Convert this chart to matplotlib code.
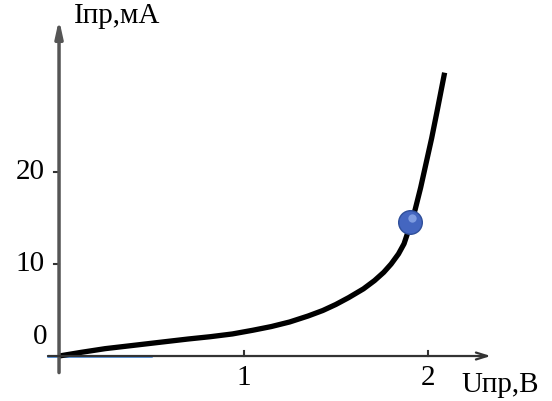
import matplotlib
matplotlib.use("Agg")
import matplotlib.pyplot as plt

# прямая ветвь ВАХ диода
u_pr = [0.0, 0.12, 0.25, 0.40, 0.55, 0.70, 0.82, 0.94, 1.05, 1.15, 1.25, 1.35, 1.43, 1.50, 1.57, 1.65,
        1.71, 1.76, 1.80, 1.84, 1.87, 1.90, 1.93, 1.96, 1.99, 2.02, 2.05, 2.09]
i_pr = [0.0, 0.4, 0.8, 1.15, 1.5, 1.85, 2.1, 2.4, 2.8, 3.2, 3.7, 4.35, 4.95, 5.6, 6.35, 7.3,
        8.2, 9.1, 10.0, 11.1, 12.2, 14.0, 15.9, 18.3, 21.0, 23.7, 26.7, 30.8]
point_u = [1.90]
point_i = [14.6]
x_ticks = [1, 2]
y_ticks = [10, 20]

plt.rcParams["font.family"] = ["Liberation Serif", "DejaVu Serif"]

fig = plt.figure(figsize=(5.52, 4.01), dpi=100)
ax = fig.add_axes([0, 0, 1, 1])
ax.set_xlim(-0.32, 2.672)
ax.set_ylim(-4.89, 38.7)
ax.axis("off")

# оси со стрелками
ax.annotate("", xy=(0, 36.6), xytext=(0, -1.8),
            arrowprops=dict(arrowstyle="-|>,head_length=1.0,head_width=0.22",
                            color="#555555", lw=2.5, shrinkA=0, shrinkB=0))
ax.annotate("", xy=(2.34, 0), xytext=(-0.06, 0),
            arrowprops=dict(arrowstyle="->,head_length=0.8,head_width=0.25",
                            color="#333333", lw=1.6, shrinkA=0, shrinkB=0))
ax.plot([-0.06, 0.5], [0, 0], color="#2f7fe0", lw=1.8)

for t in x_ticks:
    ax.plot([t, t], [0, 0.5], color="#333333", lw=1.5)
    ax.text(t, -2.4, str(t), ha="center", va="center", fontsize=21)
for t in y_ticks:
    ax.plot([-0.03, 0], [t, t], color="#333333", lw=1.5)
    ax.text(-0.08, t, str(t), ha="right", va="center", fontsize=21)
ax.text(-0.065, 2.1, "0", ha="right", va="center", fontsize=21)

ax.text(0.08, 37.0, "Iпр,мА", ha="left", va="center", fontsize=21)
ax.text(2.18, -3.1, "Uпр,В", ha="left", va="center", fontsize=21)

ax.plot(u_pr, i_pr, color="black", lw=3.8, solid_capstyle="butt", solid_joinstyle="round")
ax.plot(point_u, point_i, "o", ms=17, color="#4466c0", mec="#2f4f9a", mew=1)
ax.plot([point_u[0] + 0.012], [point_i[0] + 0.4], "o", ms=6, color="#7f9ce0", mew=0)

plt.savefig("out.png", dpi=100)
plt.close()
